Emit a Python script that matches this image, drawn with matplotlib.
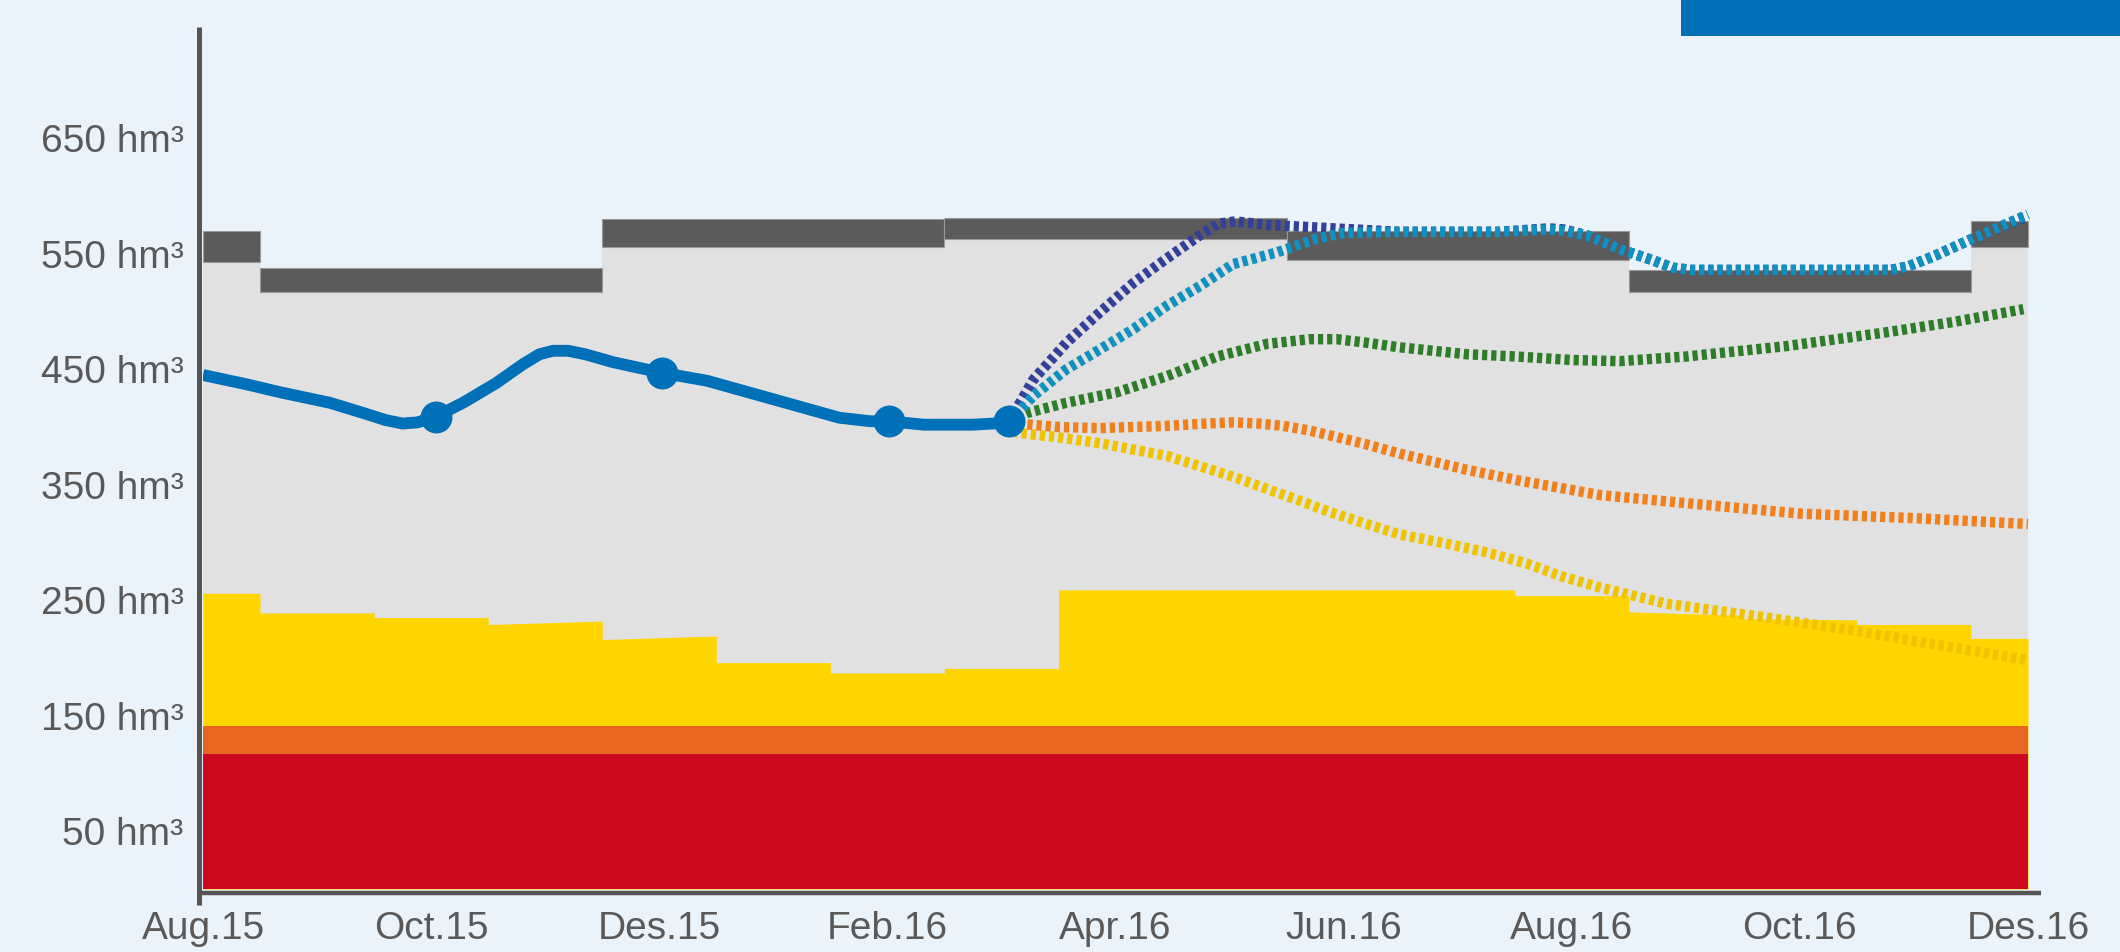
import matplotlib
matplotlib.use("Agg")
import matplotlib.pyplot as plt
from matplotlib.patches import Rectangle
import numpy as np

plt.rcParams['font.family'] = ['Liberation Sans', 'DejaVu Sans']

# x is months since Aug.15 (0) .. Des.16 (16)
tick_pos = [0, 2, 4, 6, 8, 10, 12, 14, 16]
tick_labels = ["Aug.15", "Oct.15", "Des.15", "Feb.16", "Apr.16",
               "Jun.16", "Aug.16", "Oct.16", "Des.16"]
ytick_vals = [50, 150, 250, 350, 450, 550, 650]

# upper (dark grey) band, quarterly steps
band_edges = [0, 0.5, 3.5, 6.5, 9.5, 12.5, 15.5, 16]
band_low = [543, 517, 556, 563, 545, 517, 556]
band_high = [570, 538, 580, 581, 570, 536, 578]

# yellow zone top, monthly steps (start/end value of each step)
yellow_edges = [0, 0.5, 1.5, 2.5, 3.5, 4.5, 5.5, 6.5, 7.5, 11.5, 12.5, 13.5, 14.5, 15.5, 16]
yellow_start = [256, 239, 235, 229, 216, 196, 187, 191, 259, 254, 240, 234, 229, 217]
yellow_end = [256, 239, 235, 232, 219, 196, 187, 191, 259, 254, 237, 233, 229, 217]
orange_top = 141
red_top = 117

# observed storage
obs_m = [0.0, 0.38, 0.68, 1.11, 1.41, 1.60, 1.75, 1.88, 2.04, 2.28, 2.57, 2.80, 2.95,
         3.07, 3.20, 3.35, 3.60, 4.02, 4.42, 5.0, 5.58, 5.85, 6.01, 6.32, 6.75, 6.93, 7.07]
obs_v = [445, 437, 430, 421, 412, 406, 403, 404, 409, 421, 438, 454, 463,
         466, 466, 463, 456, 447, 440, 424, 408, 405, 405, 402, 402, 403, 405]
obs_marks = [8, 17, 22, 26]

# scenario projections
s1_m = [7.07, 7.28, 7.57, 7.86, 8.16, 8.45, 8.74, 8.90, 9.05, 9.33, 9.91, 10.49, 11.37,
        11.80, 11.93, 12.13, 12.42, 12.72, 12.88, 13.05, 13.3, 14.0, 14.8, 14.95,
        15.2, 15.49, 15.93, 16.0]
s1_v = [405, 441, 473, 499, 525, 546, 566, 576, 578, 575, 572, 569, 569,
        572, 571, 566, 554, 544, 538, 536, 536, 536, 536, 539,
        549, 562, 580, 582]
s2_m = [7.07, 7.28, 7.57, 7.86, 8.16, 8.45, 8.74, 9.03, 9.41, 9.76, 10.0, 10.49, 11.37,
        11.80, 11.93, 12.13, 12.42, 12.72, 12.88, 13.05, 13.3, 14.0, 14.8, 14.95,
        15.2, 15.49, 15.93, 16.0]
s2_v = [405, 427, 450, 467, 485, 505, 522, 541, 551, 563, 568, 569, 569,
        571, 570, 566, 554, 544, 538, 536, 536, 536, 536, 539,
        549, 562, 581, 584]
s3_m = [7.07, 7.22, 7.57, 8.01, 8.45, 8.89, 9.33, 9.70, 9.94, 10.20, 10.49, 11.08, 11.52,
        12.0, 12.42, 13.0, 13.88, 14.76, 15.35, 15.96]
s3_v = [405, 412, 421, 430, 444, 461, 472, 476, 476, 473, 469, 463, 461,
        458, 457, 461, 470, 482, 491, 502]
s4_m = [7.07, 7.14, 7.5, 7.86, 8.45, 8.80, 9.03, 9.25, 9.47, 9.70, 9.91, 10.2, 10.49,
        11.08, 11.52, 12.25, 13.12, 14.0, 15.02, 16.0]
s4_v = [405, 403, 400, 399, 401, 403, 404, 403, 401, 397, 392, 385, 377,
        363, 354, 341, 333, 325, 321, 316]
s5_m = [7.07, 7.14, 7.5, 7.86, 8.45, 9.03, 9.62, 9.86, 10.2, 10.49, 10.85, 11.23, 11.6,
        11.9, 12.25, 12.83, 13.71, 14.59, 15.05, 16.0]
s5_v = [405, 395, 391, 386, 375, 357, 336, 327, 316, 307, 300, 292, 282,
        271, 261, 247, 235, 222, 214, 198]

bg = "#EAF3FA"
W, H = 2120, 952
fig = plt.figure(figsize=(W / 100, H / 100), dpi=100, facecolor=bg)
ax = fig.add_axes([203 / W, 1 - 889 / H, (2041 - 203) / W, (889 - 27) / H])
ax.set_facecolor(bg)
ax.set_xlim(0, 16 + 13 / 114.06)
ax.set_ylim(0, (889 - 27) / 1.155)

# grey area up to the lower edge of the dark band
ax.fill_between(band_edges, 0, band_low + [band_low[-1]], step="post",
                color="#E1E1E1", lw=0, zorder=1)
ax.bar(band_edges[:-1], np.array(band_high) - np.array(band_low), bottom=band_low,
       width=np.diff(band_edges), align="edge", color="#5B5B5B",
       edgecolor="#9A9A9A", linewidth=0.8, zorder=2)

yx, yy = [], []
for i in range(len(yellow_start)):
    yx += [yellow_edges[i], yellow_edges[i + 1]]
    yy += [yellow_start[i], yellow_end[i]]
ax.fill_between(yx, 0, yy, color="#FFD500", lw=0, zorder=2)
ax.fill_between([0, 16], 0, orange_top, color="#E8661F", lw=0, zorder=3)
ax.fill_between([0, 16], 0, red_top, color="#CC0820", lw=0, zorder=4)

dots = (0, (0.5, 0.38))
for m, v, c in [(s5_m, s5_v, "#EFC300"), (s4_m, s4_v, "#F0801E"),
                (s3_m, s3_v, "#2E7D2A"), (s1_m, s1_v, "#33409A"),
                (s2_m, s2_v, "#1191BF")]:
    ax.plot(m, v, color=c, lw=7.5, linestyle=dots, dash_joinstyle="round", zorder=5)

ax.plot(obs_m, obs_v, color="#0070B8", lw=8.5, solid_joinstyle="round",
        solid_capstyle="butt", marker="o", markevery=obs_marks, markersize=23,
        markeredgewidth=0, zorder=6)

# axis lines
for s in ax.spines.values():
    s.set_visible(False)
ax.plot([-4 / 1838, -4 / 1838], [-16 / 862, 1], transform=ax.transAxes,
        color="#555555", lw=3.6, clip_on=False, solid_capstyle="butt", zorder=7)
ax.plot([-6 / 1838, 1], [-4 / 862, -4 / 862], transform=ax.transAxes,
        color="#555555", lw=3.2, clip_on=False, solid_capstyle="butt", zorder=7)

ax.set_xticks(tick_pos)
ax.set_xticklabels(tick_labels)
ax.set_yticks(ytick_vals)
ax.set_yticklabels([f"{v} hm³" for v in ytick_vals])
ax.tick_params(length=0, labelsize=28, labelcolor="#595959")
ax.tick_params(axis="y", pad=14)
ax.tick_params(axis="x", pad=16)

fig.patches.append(Rectangle((1681 / W, 1 - 36 / H), 1 - 1681 / W, 36 / H,
                             transform=fig.transFigure, color="#0071B8", lw=0))

fig.savefig("out.png", dpi=100, facecolor=bg)
